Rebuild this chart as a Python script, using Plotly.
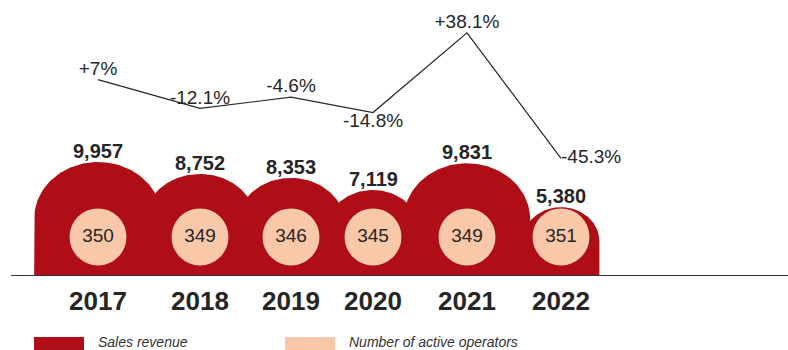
import numpy as np
import plotly.graph_objects as go

# ---- data ----
years = ["2017", "2018", "2019", "2020", "2021", "2022"]
revenue = [9957, 8752, 8353, 7119, 9831, 5380]          # sales revenue
operators = [350, 349, 346, 345, 349, 351]               # number of active operators
growth = [7, -12.1, -4.6, -14.8, 38.1, -45.3]            # year-on-year revenue change, %

# ---- layout constants ----
W, H = 788, 350
M_L, M_B = 11, 75
PLOT_H = H - M_B
slot_x = [98, 200, 291, 373, 467, 561]   # category centres on a pixel-scaled x axis
REV_RANGE = [-1500, 26390]               # revenue axis; domes rise from its floor
DOME_ASPECT = 1.13                       # horizontal / vertical radius of each dome
BUBBLE_LEVEL = 2360                      # revenue-axis level of the operator bubbles
GROWTH_RANGE = [-122.7, 59.9]            # range of the growth axis
growth_pos = ["top center", "top center", "top center",
              "bottom center", "top center", "middle right"]

RED = "#AF0E16"
PEACH = "#F9C8A8"
INK = "#262626"
FONT = "Liberation Sans, Arial, sans-serif"

floor = REV_RANGE[0]
px_per_unit = PLOT_H / (REV_RANGE[1] - REV_RANGE[0])

fig = go.Figure()

# revenue domes: a box with a half-ellipse on top, reaching up to the revenue value
t = np.linspace(np.pi, 0, 81)
for cx, v in zip(slot_x, revenue):
    ry = (v - floor) / 2
    mid = floor + ry
    rx = DOME_ASPECT * ry * px_per_unit
    xs = np.concatenate([[cx - rx], cx + rx * np.cos(t), [cx + rx, cx - rx]])
    ys = np.concatenate([[floor], mid + ry * np.sin(t), [floor, floor]])
    fig.add_trace(go.Scatter(
        x=xs, y=ys, mode="lines", fill="toself", fillcolor=RED,
        line=dict(width=0, color=RED), hoverinfo="skip", showlegend=False))

# revenue value labels
for cx, v in zip(slot_x, revenue):
    fig.add_annotation(
        x=cx, y=v, text=f"{v:,}", showarrow=False, yanchor="bottom", yshift=-2,
        font=dict(family=FONT, size=20, color=INK, weight="bold"))

# operator bubbles
fig.add_trace(go.Scatter(
    x=slot_x, y=[BUBBLE_LEVEL] * len(slot_x), mode="markers+text",
    marker=dict(size=57, color=PEACH, line=dict(width=0)),
    text=[str(o) for o in operators], textposition="middle center",
    textfont=dict(family=FONT, size=19, color=INK),
    hoverinfo="skip", showlegend=False))

# growth line
fig.add_trace(go.Scatter(
    x=slot_x, y=growth, yaxis="y2", mode="lines+text",
    line=dict(color=INK, width=1.2),
    text=[f"{g:+g}%" for g in growth], textposition=growth_pos,
    textfont=dict(family=FONT, size=19, color=INK),
    cliponaxis=False, hoverinfo="skip", showlegend=False))

# legend
legend_items = [("Sales revenue", RED, 34), ("Number of active operators", PEACH, 285)]
for label, color, x0 in legend_items:
    fig.add_shape(type="rect", xref="x", yref="paper", x0=x0, x1=x0 + 50,
                  y0=(PLOT_H - 352) / PLOT_H, y1=(PLOT_H - 337) / PLOT_H,
                  fillcolor=color, line=dict(width=0))
    fig.add_annotation(
        x=x0 + 62, xref="x", y=(PLOT_H - 342) / PLOT_H, yref="paper",
        text=label, showarrow=False, xanchor="left", yanchor="middle",
        font=dict(family=FONT, size=14, color="#333333", style="italic"))

fig.update_layout(
    width=W, height=H,
    margin=dict(l=M_L, r=0, t=0, b=M_B, pad=0),
    paper_bgcolor="white", plot_bgcolor="white",
    showlegend=False,
    xaxis=dict(range=[M_L, W], showgrid=False, zeroline=False,
               showline=True, linecolor="#333333", linewidth=1.2,
               layer="below traces",
               tickmode="array", tickvals=slot_x, ticktext=years,
               ticks="outside", ticklen=3, tickcolor="rgba(0,0,0,0)",
               tickfont=dict(family=FONT, size=26, color=INK, weight="bold"),
               fixedrange=True),
    yaxis=dict(range=REV_RANGE, visible=False, fixedrange=True),
    yaxis2=dict(range=GROWTH_RANGE, overlaying="y", visible=False, fixedrange=True),
)

fig.write_html("out.html")
